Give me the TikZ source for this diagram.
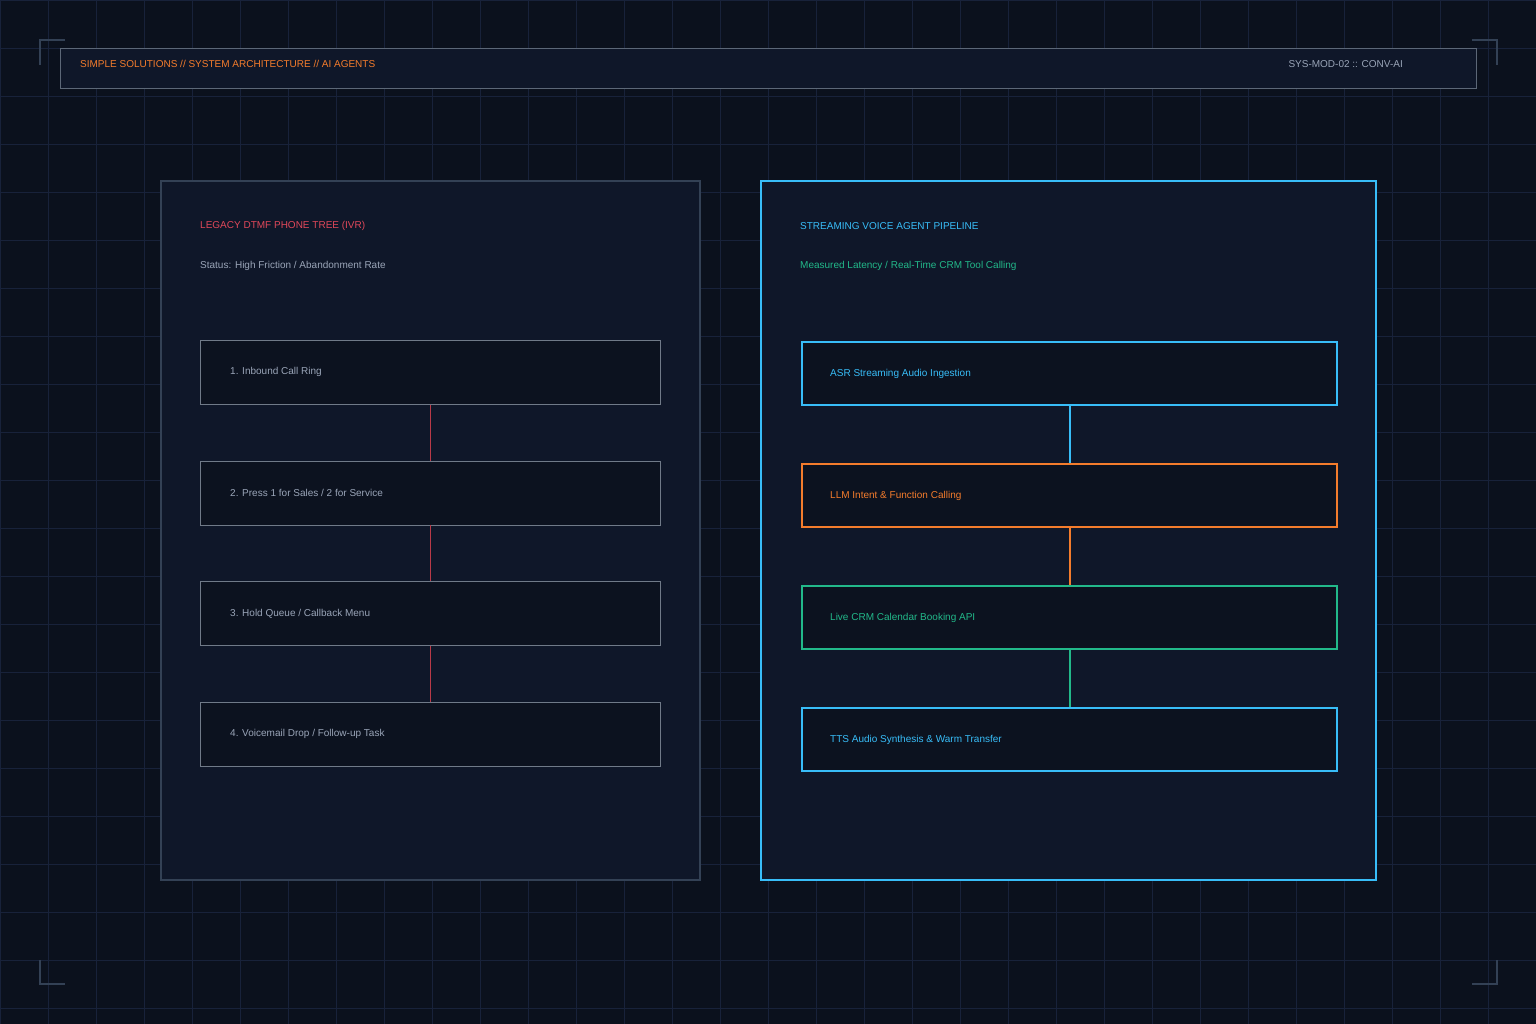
\documentclass[tikz,border=0pt]{standalone}
\usepackage{fontspec}
\setmainfont{Liberation Sans}
\usetikzlibrary{positioning}
\definecolor{bgc}{HTML}{0B111D}
\definecolor{gridc}{HTML}{18223A}
\definecolor{panelc}{HTML}{0F1729}
\definecolor{boxc}{HTML}{0C121F}
\definecolor{edgec}{HTML}{334155}
\definecolor{greyc}{HTML}{9AA5B8}
\definecolor{redc}{HTML}{E0485A}
\definecolor{linkred}{HTML}{B83A48}
\definecolor{bluec}{HTML}{38BDF8}
\definecolor{orangec}{HTML}{F47C2C}
\definecolor{greenc}{HTML}{22B98A}
\tikzset{
  lbl/.style={anchor=west,font=\fontsize{10}{12}\selectfont,inner sep=0pt},
  legacy/.style={draw=edgec!70,fill=boxc,line width=0.6pt,minimum width=460pt,minimum height=64pt,inner sep=0pt},
  stream/.style={draw=#1,fill=boxc,line width=2pt,minimum width=535pt,minimum height=63pt,inner sep=0pt},
}
\begin{document}
\begin{tikzpicture}[x=1pt,y=-1pt]
        % Background
        \fill[bgc] (0,0) rectangle (1536,1024);
        \useasboundingbox (0,0) rectangle (1536,1024);
        \foreach \i in {0,48,...,1536} \draw[gridc,line width=0.8pt] (\i,0) -- (\i,1024);
        \foreach \j in {0,48,...,1024} \draw[gridc,line width=0.8pt] (0,\j) -- (1536,\j);

        % Corner marks
        \draw[edgec,line width=1.5pt] (40,65) -- (40,40) -- (65,40);
        \draw[edgec,line width=1.5pt] (1472,40) -- (1497,40) -- (1497,65);
        \draw[edgec,line width=1.5pt] (40,960) -- (40,984) -- (65,984);
        \draw[edgec,line width=1.5pt] (1472,984) -- (1497,984) -- (1497,960);

        % Header
        \draw[edgec!80,fill=panelc,line width=0.8pt] (60,48) rectangle (1476,88);
        \node[lbl,text=orangec] (title) at (80,64) {SIMPLE SOLUTIONS // SYSTEM ARCHITECTURE // AI AGENTS};
        \node[lbl,anchor=east,text=greyc] (code) at (1403,64) {SYS-MOD-02 :: CONV-AI};

        % Left panel
        \draw[edgec,fill=panelc,line width=1.5pt] (161,181) rectangle (700,880);
        \node[lbl,text=redc] (lhead) at (200,226) {LEGACY DTMF PHONE TREE (IVR)};
        \node[lbl,text=greyc] (lstat) at (200,266) {Status: High Friction / Abandonment Rate};
        \node[legacy,anchor=north west] (l1) at (200,340) {};
        \node[legacy,below=56pt of l1] (l2) {};
        \node[legacy,below=56pt of l2] (l3) {};
        \node[legacy,below=56pt of l3] (l4) {};
        \node[lbl,text=greyc] at ([xshift=30pt]l1.west) {1. Inbound Call Ring};
        \node[lbl,text=greyc] at ([xshift=30pt]l2.west) {2. Press 1 for Sales / 2 for Service};
        \node[lbl,text=greyc] at ([xshift=30pt]l3.west) {3. Hold Queue / Callback Menu};
        \node[lbl,text=greyc] at ([xshift=30pt]l4.west) {4. Voicemail Drop / Follow-up Task};
        \foreach \a/\b in {l1/l2,l2/l3,l3/l4} \draw[linkred,line width=1pt] (\a.south) -- (\b.north);

        % Right panel
        \draw[bluec,fill=panelc,line width=2pt] (761,181) rectangle (1376,880);
        \node[lbl,text=bluec] (rhead) at (800,226) {STREAMING VOICE AGENT PIPELINE};
        \node[lbl,text=greenc] (rstat) at (800,266) {Measured Latency / Real-Time CRM Tool Calling};
        \node[stream=bluec,anchor=north west] (r1) at (801,341) {};
        \node[stream=orangec,below=57pt of r1] (r2) {};
        \node[stream=greenc,below=57pt of r2] (r3) {};
        \node[stream=bluec,below=57pt of r3] (r4) {};
        \node[lbl,text=bluec] at ([xshift=29pt]r1.west) {ASR Streaming Audio Ingestion};
        \node[lbl,text=orangec] at ([xshift=29pt]r2.west) {LLM Intent \& Function Calling};
        \node[lbl,text=greenc] at ([xshift=29pt]r3.west) {Live CRM Calendar Booking API};
        \node[lbl,text=bluec] at ([xshift=29pt]r4.west) {TTS Audio Synthesis \& Warm Transfer};
        \draw[bluec,line width=2pt] (r1.south) -- (r2.north);
        \draw[orangec,line width=2pt] (r2.south) -- (r3.north);
        \draw[greenc,line width=2pt] (r3.south) -- (r4.north);
\end{tikzpicture}
\end{document}
